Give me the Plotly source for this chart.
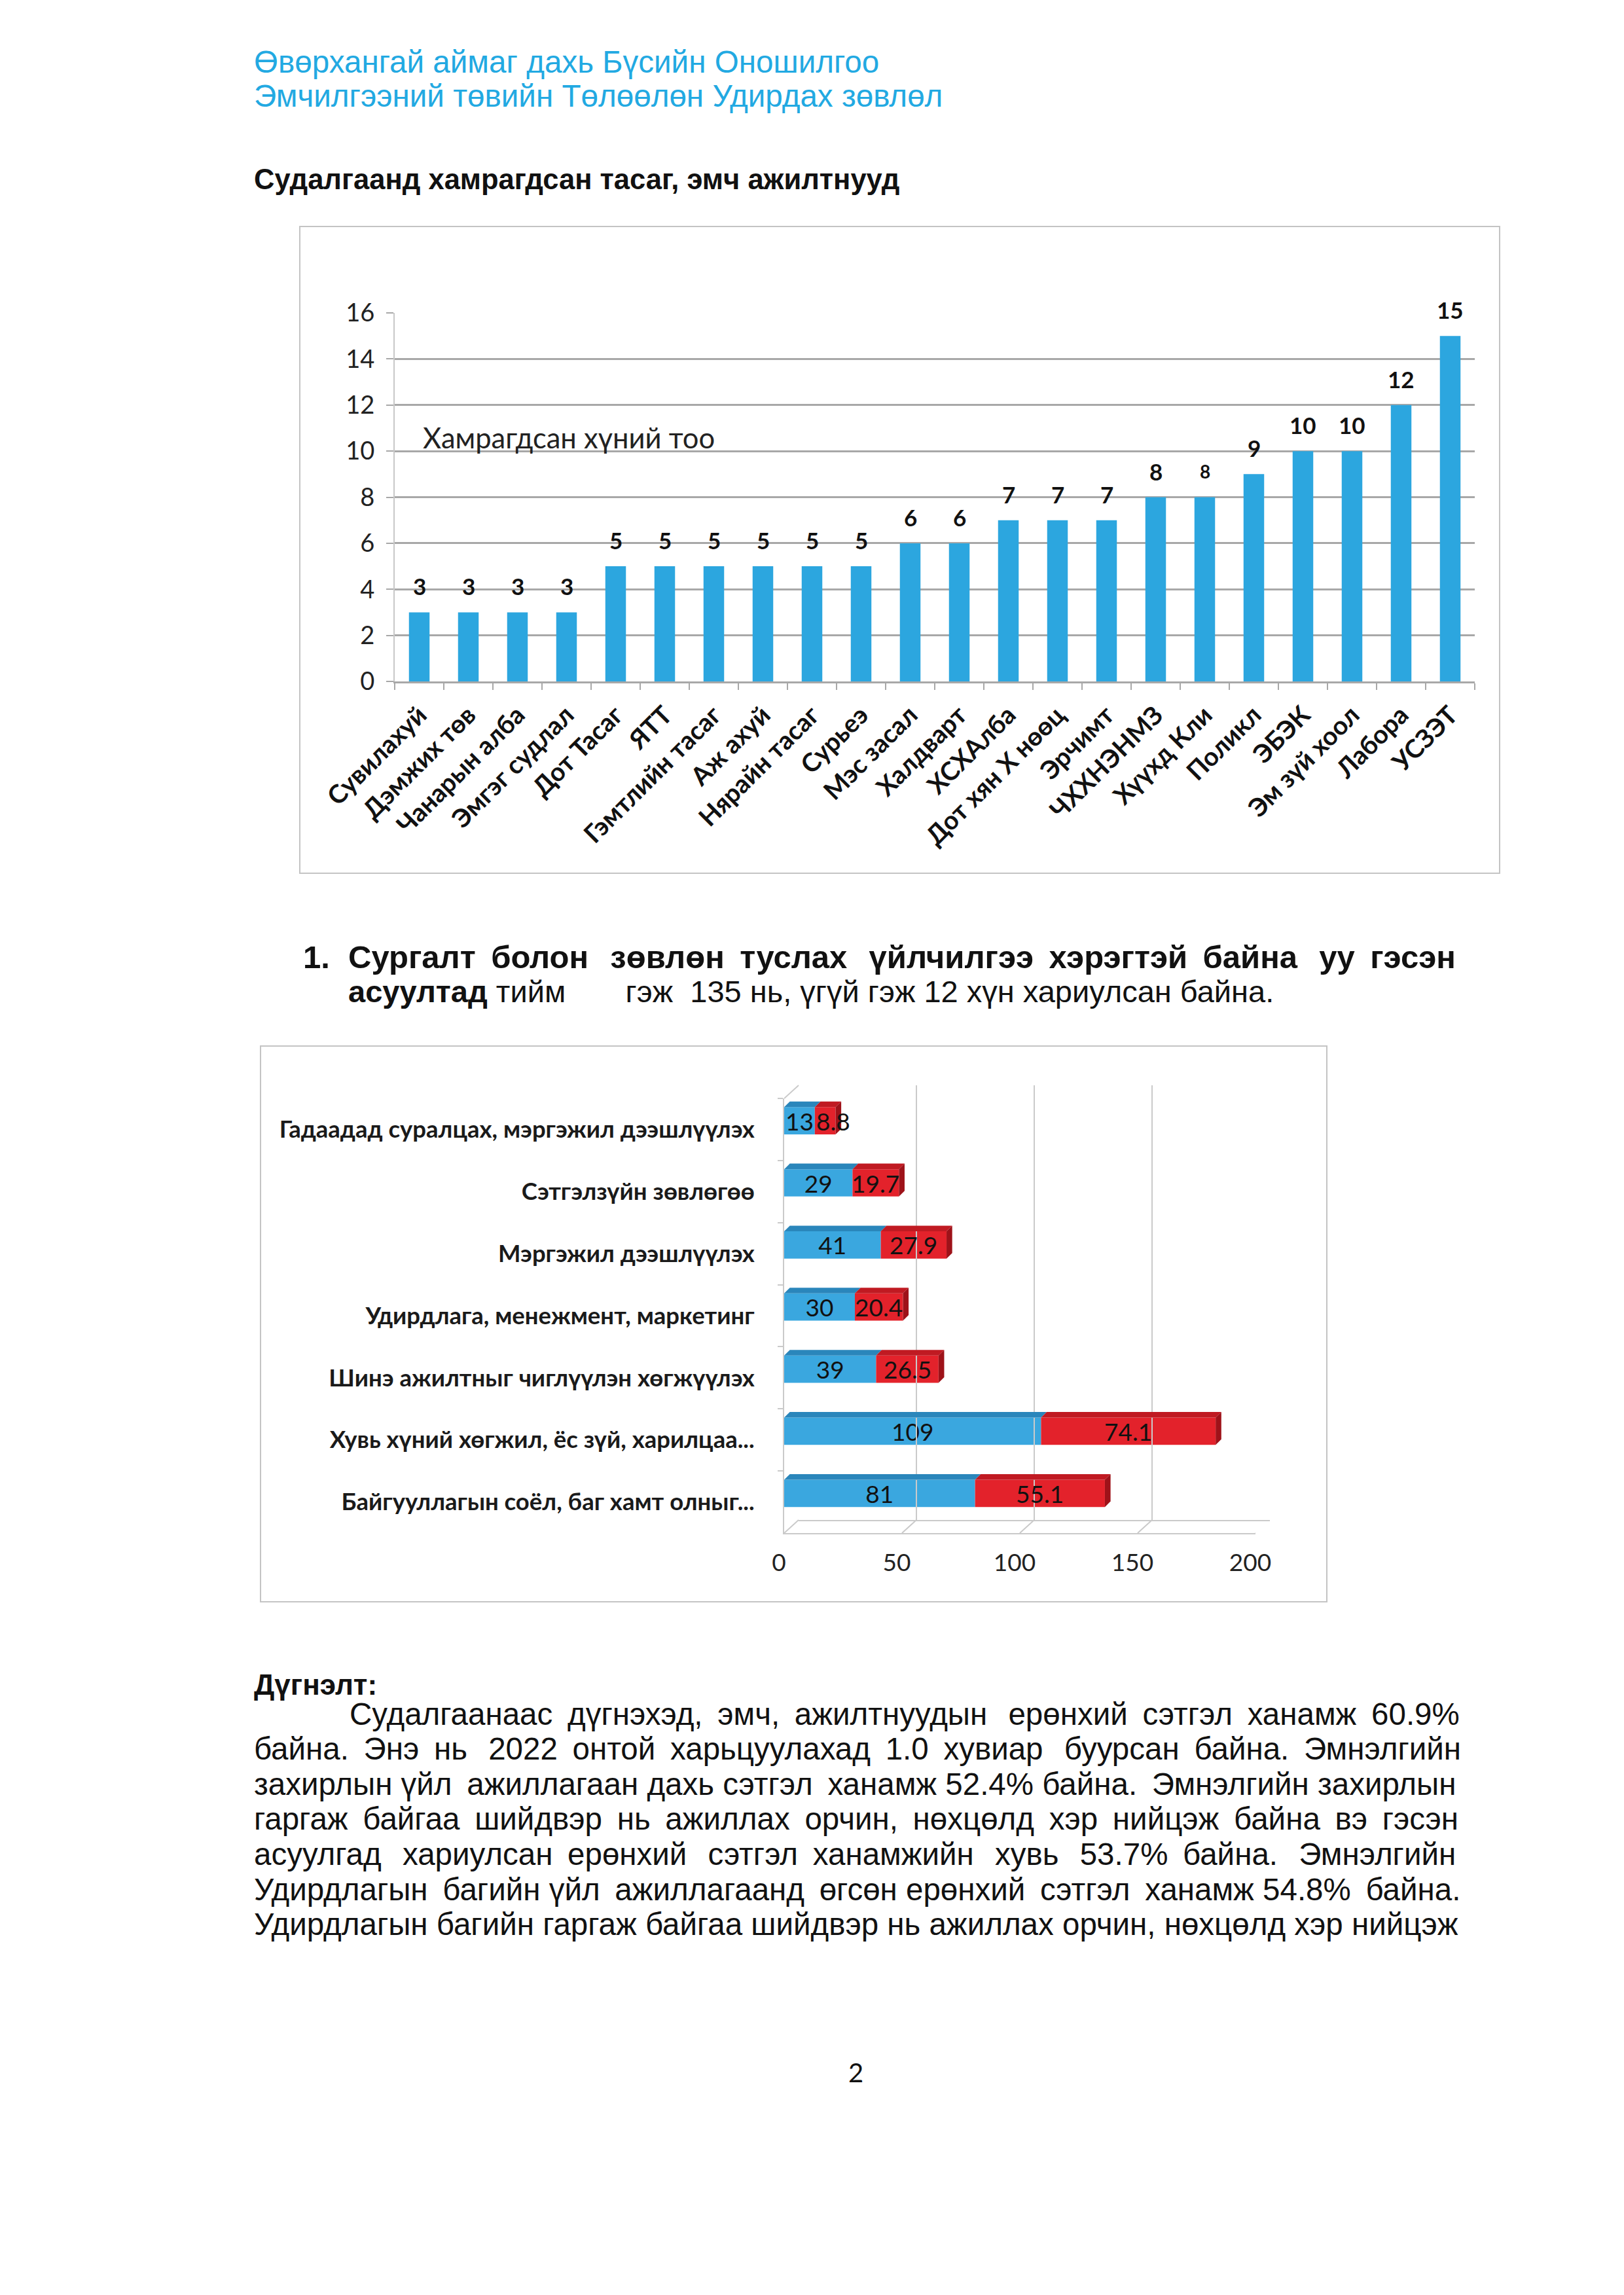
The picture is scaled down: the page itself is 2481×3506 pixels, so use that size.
import plotly.graph_objects as go

W, H = 2481, 3506
BODY_MARGIN = 8  # browser default body margin around the figure div

# ---------------- data ----------------
dept = ["Сувилахуй", "Дэмжих төв", "Чанарын алба", "Эмгэг судлал", "Дот Тасаг", "ЯТТ",
        "Гэмтлийн тасаг", "Аж ахуй", "Нярайн тасаг", "Сурьеэ", "Мэс засал", "Халдварт",
        "ХСХАлба", "Дот хян Х нөөц", "Эрчимт", "ЧХХНЭНМЗ", "Хүүхд Кли", "Поликл", "ЭБЭК",
        "Эм зүй хоол", "Лабора", "УСЗЭТ"]
staff = [3, 3, 3, 3, 5, 5, 5, 5, 5, 5, 6, 6, 7, 7, 7, 8, 8, 9, 10, 10, 12, 15]
y1_ticks = [0, 2, 4, 6, 8, 10, 12, 14, 16]

topics = ["Гадаадад суралцах, мэргэжил дээшлүүлэх", "Сэтгэлзүйн зөвлөгөө", "Мэргэжил дээшлүүлэх",
          "Удирдлага, менежмент, маркетинг", "Шинэ ажилтныг чиглүүлэн хөгжүүлэх",
          "Хувь хүний хөгжил, ёс зүй, харилцаа...", "Байгууллагын соёл, баг хамт олныг..."]
yes_count = [13, 29, 41, 30, 39, 109, 81]
yes_pct = [8.8, 19.7, 27.9, 20.4, 26.5, 74.1, 55.1]
x2_ticks = [0, 50, 100, 150, 200]

header = ["Өвөрхангай аймаг дахь Бүсийн Оношилгоо", "Эмчилгээний төвийн Төлөөлөн Удирдах зөвлөл"]
subtitle = "Судалгаанд хамрагдсан тасаг, эмч ажилтнууд"
chart1_label = "Хамрагдсан хүний тоо"
item_line1 = "Сургалт болон зөвлөн туслах үйлчилгээ хэрэгтэй байна уу гэсэн"
item_line2_bold = "асуултад"
item_line2 = " тийм\u00a0\u00a0\u00a0\u00a0\u00a0\u00a0 гэж\u00a0 135 нь, үгүй гэж 12 хүн хариулсан байна."
concl_title = "Дүгнэлт:"
body_lines = [
    "Судалгаанаас дүгнэхэд, эмч, ажилтнуудын ерөнхий сэтгэл ханамж 60.9%",
    "байна. Энэ нь 2022 онтой харьцуулахад 1.0 хувиар буурсан байна. Эмнэлгийн",
    "захирлын үйл ажиллагаан дахь сэтгэл ханамж 52.4% байна. Эмнэлгийн захирлын",
    "гаргаж байгаа шийдвэр нь ажиллах орчин, нөхцөлд хэр нийцэж байна вэ гэсэн",
    "асуулгад хариулсан ерөнхий сэтгэл ханамжийн хувь 53.7% байна. Эмнэлгийн",
    "Удирдлагын багийн үйл ажиллагаанд өгсөн ерөнхий сэтгэл ханамж 54.8% байна.",
    "Удирдлагын багийн гаргаж байгаа шийдвэр нь ажиллах орчин, нөхцөлд хэр нийцэж",
]
page_no = "2"

# ---------------- style ----------------
ARIAL = "Liberation Sans, Arial, sans-serif"
CAL = "Lato, Roboto, sans-serif"
CYAN = "#22a9e2"
BAR1 = "#2ca6df"
BLUE = "#3aa7df"
BLUE_TOP = "#2a86bb"
RED = "#e3222b"
RED_TOP = "#c01a22"
RED_SIDE = "#9e1219"
GRID1 = "#a8a8a8"
GRID2 = "#cacaca"
FRAME = "#c4c4c4"
BODY_PAD_UNITS = [8, 12, 3, 11, 13, 6, 0]   # justification padding (thin spaces) per line
ITEM1_PAD_UNITS = 11
THIN = "\u2009"


def fx(px):
    return (px - BODY_MARGIN) / W


def fy(py):
    return 1 - (py - BODY_MARGIN) / H


def justify(line, units):
    words = line.split(" ")
    gaps = len(words) - 1
    out = words[0]
    for g in range(gaps):
        n = round((g + 1) * units / gaps) - round(g * units / gaps)
        out += " " + THIN * n + words[g + 1]
    return out


fig = go.Figure()

# ---- chart 1 ----
fig.add_trace(go.Bar(x=dept, y=staff, marker_color=BAR1, marker_line_width=0,
                     xaxis="x", yaxis="y", showlegend=False, hoverinfo="skip"))

# ---- chart 2 ----
BW, BOFF = 0.44, -0.36
fig.add_trace(go.Bar(y=topics, x=yes_count, orientation="h", xaxis="x2", yaxis="y2",
                     width=BW, offset=BOFF, marker_color=BLUE, marker_line_width=0,
                     text=[str(v) for v in yes_count], textposition="inside",
                     insidetextanchor="middle", textangle=0, constraintext="none",
                     textfont=dict(family=CAL, size=37, color="#111111"),
                     showlegend=False, hoverinfo="skip"))
fig.add_trace(go.Bar(y=topics, x=yes_pct, base=yes_count, orientation="h", xaxis="x2", yaxis="y2",
                     width=BW, offset=BOFF, marker_color=RED, marker_line_width=0,
                     showlegend=False, hoverinfo="skip"))
# dummy trace to draw the back wall grid of the 3D chart
fig.add_trace(go.Scatter(x=x2_ticks, y=[0] * len(x2_ticks), xaxis="x3", yaxis="y3", mode="markers",
                         marker=dict(opacity=0), showlegend=False, hoverinfo="skip"))

shapes = []
DX, DY = 2.4, 0.09  # 3D depth in data units
for i, (a, p) in enumerate(zip(yes_count, yes_pct)):
    top = i + BOFF
    bot = i + BOFF + BW
    b = a + p
    shapes.append(dict(type="path", xref="x2", yref="y2", layer="above", line_width=0, fillcolor=BLUE_TOP,
                       path=f"M {0},{top} L {a},{top} L {a + DX},{top - DY} L {DX},{top - DY} Z"))
    shapes.append(dict(type="path", xref="x2", yref="y2", layer="above", line_width=0, fillcolor=RED_TOP,
                       path=f"M {a},{top} L {b},{top} L {b + DX},{top - DY} L {a + DX},{top - DY} Z"))
    shapes.append(dict(type="path", xref="x2", yref="y2", layer="above", line_width=0, fillcolor=RED_SIDE,
                       path=f"M {b},{top} L {b + DX},{top - DY} L {b + DX},{bot - DY} L {b},{bot} Z"))

# floor diagonals of 3D chart
for v in x2_ticks:
    shapes.append(dict(type="line", xref="x2", xsizemode="pixel", xanchor=v, x0=0, x1=22,
                       yref="paper", ysizemode="pixel", yanchor=fy(2342), y0=0, y1=20,
                       line=dict(color=GRID2, width=2)))
shapes.append(dict(type="line", xref="x2", xsizemode="pixel", xanchor=0, x0=0, x1=22,
                   yref="paper", ysizemode="pixel", yanchor=fy(1678), y0=0, y1=20,
                   line=dict(color=GRID2, width=2)))

# chart frames
shapes.append(dict(type="rect", xref="paper", yref="paper", x0=fx(458), x1=fx(2291), y0=fy(346), y1=fy(1334),
                   line=dict(color=FRAME, width=2), layer="below"))
shapes.append(dict(type="rect", xref="paper", yref="paper", x0=fx(398), x1=fx(2027), y0=fy(1598), y1=fy(2447),
                   line=dict(color=FRAME, width=2), layer="below"))

ann = []
# data labels chart 1
for i, (d, v) in enumerate(zip(dept, staff)):
    size = 28 if i == 16 else 35
    ann.append(dict(x=d, y=v, xref="x", yref="y", text=str(v), showarrow=False, yshift=40,
                    font=dict(family=CAL, size=size, color="#111111", weight="bold")))

# red segment labels chart 2 (narrow segments: label starts at the segment's left edge)
for t, a, p in zip(topics, yes_count, yes_pct):
    narrow = p < 12
    ann.append(dict(x=a if narrow else a + p / 2, y=t, xref="x2", yref="y2", text=f"{p:.1f}",
                    showarrow=False, xanchor="left" if narrow else "center", yanchor="middle",
                    xshift=0, yshift=(BW / 2 + BOFF) * -94.9,
                    font=dict(family=CAL, size=37, color="#111111")))


def text(px, py, s, size, color="#111111", bold=False, family=ARIAL, anchor="left"):
    ann.append(dict(x=fx(px), y=fy(py), xref="paper", yref="paper", text=s, showarrow=False,
                    xanchor=anchor, yanchor="middle",
                    font=dict(family=family, size=size, color=color, weight="bold" if bold else "normal")))


text(386, 94, header[0], 47.6, CYAN)
text(386, 147, header[1], 47.6, CYAN)
text(386, 274, subtitle, 43.5, bold=True)
text(644, 668, chart1_label, 43.5, family=CAL, color="#222222")
text(461, 1462, "1.", 49, bold=True)
text(530, 1462, justify(item_line1, ITEM1_PAD_UNITS), 49, bold=True)
text(530, 1514, f"<b>{item_line2_bold}</b>{item_line2}", 47)
text(386, 2573, concl_title, 44, bold=True)
body_x = [532] + [386] * (len(body_lines) - 1)
for k, line in enumerate(body_lines):
    text(body_x[k], 2618 + k * 53.6, justify(line, BODY_PAD_UNITS[k]), 47.5)
text(1307, 3166, page_no, 40, family=CAL, anchor="center")

fig.update_layout(
    width=W, height=H, margin=dict(l=0, r=0, t=0, b=0, pad=0, autoexpand=False),
    paper_bgcolor="white", plot_bgcolor="rgba(0,0,0,0)",
    barmode="overlay", bargap=0.58,
    shapes=shapes, annotations=ann,
    xaxis=dict(domain=[fx(603), fx(2253)], anchor="y", type="category", tickangle=-45, automargin=False,
               tickfont=dict(family=CAL, size=39, color="#111111", weight="bold"),
               ticks="outside", tickson="boundaries", ticklen=10, tickwidth=2, tickcolor=GRID1,
               showline=True, linecolor=GRID1, linewidth=3, showgrid=False, ticklabelstandoff=10),
    yaxis=dict(domain=[fy(1041), fy(478)], anchor="x", range=[0, 16], tickvals=y1_ticks, automargin=False,
               showgrid=True, gridcolor=GRID1, gridwidth=3, zeroline=False,
               showline=True, linecolor="#c8c8c8", linewidth=2,
               ticks="outside", ticklen=11, tickwidth=2, tickcolor=GRID1, ticklabelstandoff=10,
               tickfont=dict(family=CAL, size=38, color="#222222")),
    xaxis2=dict(domain=[fx(1198), fx(1918)], anchor="y2", range=[0, 200], tickvals=x2_ticks, automargin=False,
                showgrid=False, zeroline=False, showline=True, linecolor=GRID2, linewidth=2,
                ticks="", ticklabelstandoff=12, ticklabelshift=-8,
                tickfont=dict(family=CAL, size=37, color="#222222")),
    yaxis2=dict(domain=[fy(2342), fy(1678)], anchor="x2", type="category", categoryorder="array",
                categoryarray=topics, range=[6.5, -0.5], showgrid=False, zeroline=False, automargin=False,
                showline=True, linecolor=GRID2, linewidth=2,
                ticks="outside", tickson="boundaries", ticklen=8, tickwidth=2, tickcolor=GRID2,
                ticklabelstandoff=36,
                tickfont=dict(family=CAL, size=36.5, color="#1a1a1a", weight="bold")),
    xaxis3=dict(domain=[fx(1220), fx(1940)], anchor="y3", range=[0, 200], tickvals=x2_ticks, automargin=False,
                showgrid=True, gridcolor=GRID2, gridwidth=2, zeroline=False, showticklabels=False,
                showline=True, linecolor=GRID2, linewidth=2, ticks=""),
    yaxis3=dict(domain=[fy(2322), fy(1658)], anchor="x3", range=[0, 1], showgrid=False, automargin=False,
                zeroline=False, showticklabels=False, showline=False, ticks=""),
)

fig.write_html("out.html")
